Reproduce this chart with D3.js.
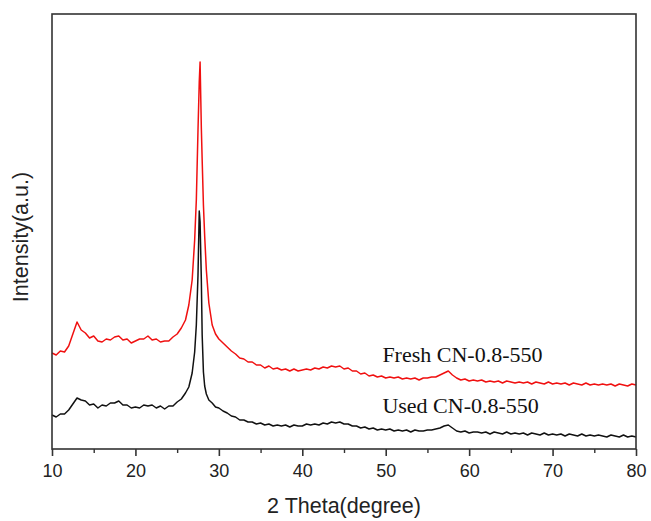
<!DOCTYPE html>
<html>
<head>
<meta charset="utf-8">
<script src="https://cdn.jsdelivr.net/npm/d3@7"></script>
<style>
  body { margin: 0; background: #fff; }
  svg { display: block; }
</style>
</head>
<body>
<svg id="chart"></svg>
<script>
// 2θ grid (degree)
const twoTheta = [
  10, 10.5, 11, 11.5, 12, 12.5, 13, 13.5, 14, 14.5, 15, 15.5, 16, 16.5, 17, 17.5,
  18, 18.5, 19, 19.5, 20, 20.5, 21, 21.5, 22, 22.5, 23, 23.5, 24, 24.5, 25, 25.5, 26,
  26.4, 26.8, 27.1, 27.3, 27.5, 27.65, 27.75, 27.9, 28, 28.15, 28.3, 28.5, 28.8, 29.2, 29.6, 30,
  30.5, 31, 31.5, 32, 32.5, 33, 33.5, 34, 34.5, 35, 35.5, 36, 36.5, 37, 37.5, 38, 38.5, 39, 39.5, 40,
  40.5, 41, 41.5, 42, 42.5, 43, 43.5, 44, 44.5, 45, 45.5, 46, 46.5, 47, 47.5, 48, 48.5, 49, 49.5, 50,
  50.5, 51, 51.5, 52, 52.5, 53, 53.5, 54, 54.5, 55, 55.5, 56, 56.5, 57, 57.5, 58, 58.5, 59, 59.5, 60,
  60.5, 61, 61.5, 62, 62.5, 63, 63.5, 64, 64.5, 65, 65.5, 66, 66.5, 67, 67.5, 68, 68.5, 69, 69.5, 70,
  70.5, 71, 71.5, 72, 72.5, 73, 73.5, 74, 74.5, 75, 75.5, 76, 76.5, 77, 77.5, 78, 78.5, 79, 79.5, 80
];

// intensities (a.u.)
const freshCounts = [
  96, 94, 98, 97, 103, 115, 127, 119, 116, 111, 113, 108, 107, 110, 109, 112,
  113, 109, 110, 106, 108, 110, 110, 113, 109, 110, 107, 108, 108, 112, 115, 121, 129,
  144, 169, 209, 249, 319, 367, 387, 321, 289, 244, 213, 179, 146, 124, 115, 110,
  106, 102, 98, 95, 91, 90, 87, 87, 84, 84, 81, 83, 80, 81, 79, 80, 78, 80, 78, 79,
  80, 79, 81, 80, 82, 81, 83, 82, 83, 80, 81, 78, 78, 75, 76, 73, 74, 72, 73, 71,
  72, 71, 72, 70, 71, 70, 71, 69, 71, 71, 72, 72, 74, 76, 78, 74, 71, 69, 70, 68,
  69, 68, 69, 67, 68, 67, 68, 66, 68, 67, 66, 67, 66, 67, 65, 67, 66, 65, 67, 65,
  66, 65, 66, 64, 66, 65, 64, 66, 64, 65, 64, 65, 64, 65, 63, 65, 64, 63, 65, 64
];

const usedCounts = [
  34, 32, 35, 35, 39, 45, 51, 49, 48, 44, 45, 41, 44, 43, 46, 46,
  48, 44, 44, 41, 42, 41, 44, 43, 44, 41, 43, 40, 43, 43, 47, 50, 56,
  62, 76, 97, 124, 174, 238, 227, 169, 114, 77, 63, 55, 49, 46, 42, 41,
  38, 36, 33, 32, 29, 29, 27, 27, 25, 26, 24, 25, 23, 24, 23, 24, 22, 24, 23, 23,
  25, 24, 25, 24, 26, 25, 27, 26, 27, 25, 25, 23, 23, 21, 22, 20, 21, 19, 20, 19,
  20, 18, 19, 18, 19, 17, 19, 18, 18, 19, 19, 20, 21, 23, 24, 21, 18, 17, 18, 16,
  17, 17, 16, 17, 15, 17, 16, 15, 17, 15, 16, 15, 16, 14, 16, 15, 14, 16, 14, 15,
  14, 15, 13, 15, 14, 13, 15, 13, 14, 13, 14, 13, 12, 14, 13, 12, 14, 12, 13, 12
];

const xTicks = [10, 20, 30, 40, 50, 60, 70, 80];
const xMinorTicks = [15, 25, 35, 45, 55, 65, 75];

const series = [
  {name: "Fresh CN-0.8-550", values: freshCounts, color: "#f01010", labelAt: 87},
  {name: "Used CN-0.8-550", values: usedCounts, color: "#111111", labelAt: 36}
];

// layout
const width = 651;
const height = 521;
const marginTop = 14;
const marginRight = 15;
const marginBottom = 72;
const marginLeft = 52;

const x = d3.scaleLinear([10, 80], [marginLeft, width - marginRight]);
const y = d3.scaleLinear([0, 435], [height - marginBottom, marginTop]);

const svg = d3.select("#chart")
  .attr("width", width)
  .attr("height", height)
  .attr("viewBox", [0, 0, width, height]);

const line = d3.line()
  .x((d, i) => x(twoTheta[i]))
  .y(d => y(d));

svg.append("g")
  .selectAll("path")
  .data(series)
  .join("path")
  .attr("fill", "none")
  .attr("stroke", d => d.color)
  .attr("stroke-width", 1.5)
  .attr("stroke-linejoin", "round")
  .attr("d", d => line(d.values));

// series labels
svg.append("g")
  .attr("font-family", "'Liberation Serif', 'Times New Roman', serif")
  .attr("font-size", 22)
  .attr("fill", "#111")
  .selectAll("text")
  .data(series)
  .join("text")
  .attr("x", x(49.6))
  .attr("y", d => y(d.labelAt))
  .text(d => d.name);

// frame
svg.append("rect")
  .attr("x", marginLeft)
  .attr("y", marginTop)
  .attr("width", width - marginLeft - marginRight)
  .attr("height", height - marginTop - marginBottom)
  .attr("fill", "none")
  .attr("stroke", "#333")
  .attr("stroke-width", 1.6);

// x axis
const xAxis = d3.axisBottom(x)
  .tickValues(xTicks)
  .tickSize(7)
  .tickPadding(8)
  .tickFormat(d3.format("d"));

svg.append("g")
  .attr("transform", `translate(0,${height - marginBottom})`)
  .call(xAxis)
  .call(g => g.select(".domain").remove())
  .call(g => g.selectAll(".tick line").attr("stroke", "#333").attr("stroke-width", 1.6))
  .call(g => g.selectAll(".tick text")
    .attr("fill", "#222")
    .attr("font-family", "'Liberation Sans', Arial, sans-serif")
    .attr("font-size", 18));

svg.append("g")
  .attr("transform", `translate(0,${height - marginBottom})`)
  .call(d3.axisBottom(x).tickValues(xMinorTicks).tickSize(4).tickFormat(""))
  .call(g => g.select(".domain").remove())
  .call(g => g.selectAll(".tick line").attr("stroke", "#333").attr("stroke-width", 1.4));

// axis titles
svg.append("text")
  .attr("x", (marginLeft + width - marginRight) / 2)
  .attr("y", 513)
  .attr("text-anchor", "middle")
  .attr("font-family", "'Liberation Sans', Arial, sans-serif")
  .attr("font-size", 21.5)
  .attr("fill", "#222")
  .text("2 Theta(degree)");

svg.append("text")
  .attr("transform", `translate(28,237) rotate(-90)`)
  .attr("text-anchor", "middle")
  .attr("font-family", "'Liberation Sans', Arial, sans-serif")
  .attr("font-size", 21.5)
  .attr("fill", "#222")
  .text("Intensity(a.u.)");
</script>
</body>
</html>
